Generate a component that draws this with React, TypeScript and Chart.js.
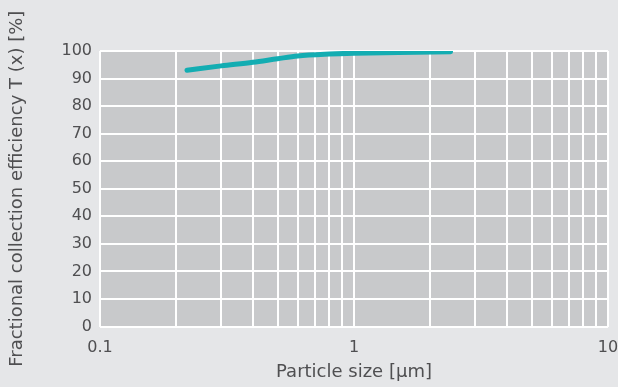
import React, { useEffect, useRef } from "react";
import { Chart, registerables } from "chart.js";

Chart.register(...registerables);

const particleSize = [0.22, 0.3, 0.4, 0.5, 0.6, 0.8, 1, 1.5, 2.4];
const efficiency = [93, 94.6, 95.9, 97.2, 98.2, 98.9, 99.2, 99.5, 99.7];
const xGridValues = [0.1, 0.2, 0.3, 0.4, 0.5, 0.6, 0.7, 0.8, 0.9, 1, 2, 3, 4, 5, 6, 7, 8, 9, 10];
const xLabelValues = [0.1, 1, 10];
const yTitle = "Fractional collection efficiency T (x) [%]";
const xTitle = "Particle size [µm]";

const FONT = "'DejaVu Sans', sans-serif";
const TEXT = "#4f4f51";

const plotBg = {
  id: "plotBg",
  beforeDraw(chart: any) {
    const { ctx, chartArea } = chart;
    ctx.save();
    ctx.fillStyle = "#c8c9cb";
    ctx.fillRect(chartArea.left, chartArea.top, chartArea.right - chartArea.left, chartArea.bottom - chartArea.top);
    ctx.restore();
  },
};

export default function App() {
  const ref = useRef<HTMLCanvasElement>(null);
  useEffect(() => {
    const chart = new Chart(ref.current!, {
      type: "line",
      data: {
        datasets: [
          {
            data: particleSize.map((x, i) => ({ x, y: efficiency[i] })),
            borderColor: "#13adb2",
            borderWidth: 5,
            pointRadius: 0,
            cubicInterpolationMode: "monotone",
            borderCapStyle: "round",
            fill: false,
          },
        ],
      },
      options: {
        animation: false,
        responsive: false,
        layout: { padding: { top: 51, right: 10, left: 0, bottom: 0 } },
        plugins: { legend: { display: false }, tooltip: { enabled: false } },
        scales: {
          x: {
            type: "logarithmic",
            min: 0.1,
            max: 10,
            afterBuildTicks: (s: any) => {
              s.ticks = xGridValues.map((v) => ({ value: v }));
            },
            afterFit: (s: any) => {
              s.height = 60.5;
              s.paddingRight = 0;
              s.paddingLeft = 0;
            },
            ticks: {
              autoSkip: false,
              maxRotation: 0,
              padding: 12,
              color: TEXT,
              font: { family: FONT, size: 16 },
              callback: (v: any) => (xLabelValues.includes(Number(v)) ? String(v) : ""),
            },
            grid: { color: "#ffffff", lineWidth: 2, drawTicks: false },
            border: { display: false },
            title: {
              display: true,
              text: xTitle,
              color: TEXT,
              font: { family: FONT, size: 18 },
              padding: { top: 2, bottom: 4 },
            },
          },
          y: {
            min: 0,
            max: 100,
            ticks: {
              stepSize: 10,
              padding: 8,
              color: TEXT,
              font: { family: FONT, size: 16 },
            },
            afterFit: (s: any) => {
              s.width = 100;
            },
            grid: { color: "#ffffff", lineWidth: 2, drawTicks: false },
            border: { display: false },
            title: {
              display: true,
              text: yTitle,
              color: TEXT,
              font: { family: FONT, size: 18 },
              padding: { top: 7, bottom: 0 },
            },
          },
        },
      },
      plugins: [plotBg],
    } as any);
    return () => chart.destroy();
  }, []);
  return (
    <div style={{ position: "fixed", left: 0, top: 0, width: 618, height: 387, background: "#e5e6e8" }}>
      <canvas ref={ref} width={618} height={387} style={{ display: "block" }} />
    </div>
  );
}
